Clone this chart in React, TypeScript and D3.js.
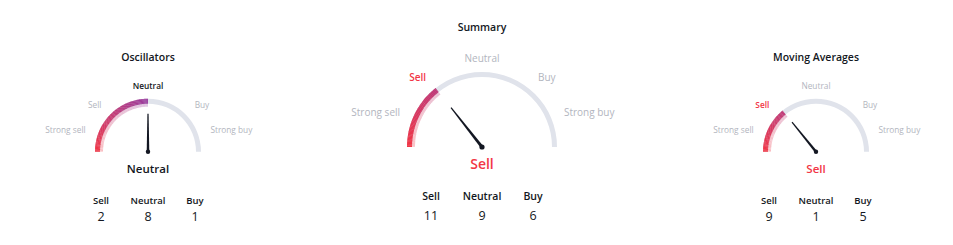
import React from "react";
import * as d3 from "d3";

// ---- data ----
const GAUGE_TITLES = ["Oscillators", "Summary", "Moving Averages"];
const RATINGS = [0.0, -0.425, -0.435]; // -1 (strong sell) .. 1 (strong buy)
const STATUS = ["Neutral", "Sell", "Sell"];
const COUNT_LABELS = ["Sell", "Neutral", "Buy"];
const SELL_COUNTS = [2, 11, 9];
const NEUTRAL_COUNTS = [8, 9, 1];
const BUY_COUNTS = [1, 6, 5];
const ZONE_LABELS = ["Strong sell", "Sell", "Neutral", "Buy", "Strong buy"];
const ZONE_BOUNDS = [-1, -0.5, -0.1, 0.1, 0.5, 1];

// ---- layout ----
const W = 953;
const H = 245;
const CX = [148, 482, 816];
const CY = [151.7, 147, 151.7];
const RADIUS = [53, 75, 53];
const TITLE_Y = [57, 27, 57];

const RED = "#f23645";
const PURPLE = "#973a9f";
const BLUE = "#2962ff";
const GRAY_TRACK = "#e0e3eb";
const GRAY_TEXT = "#b2b5be";
const DARK = "#131722";
const FONT = "'Open Sans', Roboto, Arial, sans-serif";

const colorAt = (f: number) =>
  f <= 0.5 ? d3.interpolateRgb(RED, PURPLE)(f / 0.5) : d3.interpolateRgb(PURPLE, BLUE)((f - 0.5) / 0.5);

const angleScale = d3.scaleLinear().domain([-1, 1]).range([-Math.PI / 2, Math.PI / 2]); // d3.arc angle (0 = up)

function Gauge({ i }: { i: number }) {
  const big = i === 1;
  const cx = CX[i];
  const cy = CY[i];
  const r = RADIUS[i];
  const band = 5;
  const glow = 3;
  const value = RATINGS[i];
  const endA = angleScale(value);
  const arcGen = d3.arc<any>();

  const track = arcGen({ innerRadius: r - band, outerRadius: r, startAngle: -Math.PI / 2, endAngle: Math.PI / 2 }) as string;

  const steps = d3.range(-Math.PI / 2, endA, Math.PI / 180);
  const segs = steps.map((a) => {
    const b = Math.min(a + Math.PI / 180 + 0.004, endA);
    const f = (a + Math.PI / 2) / Math.PI;
    return {
      main: arcGen({ innerRadius: r - band, outerRadius: r, startAngle: a, endAngle: b }) as string,
      glow: arcGen({ innerRadius: r - band - glow, outerRadius: r - band, startAngle: a, endAngle: b }) as string,
      color: colorAt(f),
    };
  });

  // zone label positions (angle from left horizontal, degrees)
  const labelAngles = big ? [23, 51, 90, 129, 157] : [19, 45, 90, 135, 161];
  const labelR = r + (big ? 14 : 13);
  const labelSize = big ? 10 : 8.3;
  const activeZone = d3.bisectRight(ZONE_BOUNDS, value) - 1;
  const statusColor = STATUS[i] === "Neutral" ? DARK : RED;

  // needle
  const nLen = big ? 50 : 38;
  const theta = Math.PI - ((value + 1) / 2) * Math.PI; // standard math angle
  const ux = Math.cos(theta);
  const uy = -Math.sin(theta);
  const px = -uy;
  const py = ux;
  const baseW = big ? 1.5 : 1.3;
  const tipW = 0.6;
  const tipX = cx + ux * nLen;
  const tipY = cy + uy * nLen;
  const needle = `M${cx + px * baseW},${cy + py * baseW} L${tipX + px * tipW},${tipY + py * tipW} L${tipX - px * tipW},${tipY - py * tipW} L${cx - px * baseW},${cy - py * baseW} Z`;

  const countDx = big ? 51 : 47;
  const countX = d3.scalePoint<string>().domain(COUNT_LABELS).range([cx - countDx, cx + countDx]);
  const counts = [SELL_COUNTS[i], NEUTRAL_COUNTS[i], BUY_COUNTS[i]];
  const countLabelY = big ? 196.7 : 201;
  const countNumY = big ? 215.7 : 216.7;

  return (
    <g>
      <text x={cx} y={TITLE_Y[i]} dy="0.35em" textAnchor="middle" fontSize={10.5} fontWeight={600} fill={DARK} fontFamily={FONT}>
        {GAUGE_TITLES[i]}
      </text>
      <g transform={`translate(${cx},${cy})`}>
        <path d={track} fill={GRAY_TRACK} />
        {segs.map((s, k) => (
          <g key={k}>
            <path d={s.glow} fill={s.color} opacity={0.25} />
            <path d={s.main} fill={s.color} />
          </g>
        ))}
      </g>
      {ZONE_LABELS.map((lab, k) => {
        const a = (labelAngles[k] * Math.PI) / 180;
        const x = cx - Math.cos(a) * labelR;
        const y = cy - Math.sin(a) * labelR;
        const anchor = labelAngles[k] < 80 ? "end" : labelAngles[k] > 100 ? "start" : "middle";
        const active = k === activeZone;
        const fill = active ? (lab === "Neutral" ? DARK : RED) : GRAY_TEXT;
        return (
          <text key={lab} x={x} y={y} dy="0.35em" textAnchor={anchor} fontSize={labelSize} fontWeight={active ? 600 : 400} fill={fill} fontFamily={FONT}>
            {lab}
          </text>
        );
      })}
      <path d={needle} fill={DARK} />
      <circle cx={cx} cy={cy} r={big ? 2.6 : 2.2} fill={DARK} />
      <text x={cx} y={big ? 164 : 169.3} dy="0.35em" textAnchor="middle" fontSize={big ? 14 : 11.5} fontWeight={600} fill={statusColor} fontFamily={FONT}>
        {STATUS[i]}
      </text>
      {COUNT_LABELS.map((lab, k) => (
        <g key={lab}>
          <text x={countX(lab)} y={countLabelY} dy="0.35em" textAnchor="middle" fontSize={big ? 10.5 : 9.5} fontWeight={600} fill={DARK} fontFamily={FONT}>
            {lab}
          </text>
          <text x={countX(lab)} y={countNumY} dy="0.35em" textAnchor="middle" fontSize={12.5} fontWeight={400} fill={DARK} fontFamily={FONT}>
            {counts[k]}
          </text>
        </g>
      ))}
    </g>
  );
}

export default function App() {
  return (
    <svg width={W} height={H} style={{ position: "absolute", left: 0, top: 0, background: "#fff" }}>
      {GAUGE_TITLES.map((_, i) => (
        <Gauge key={i} i={i} />
      ))}
    </svg>
  );
}
